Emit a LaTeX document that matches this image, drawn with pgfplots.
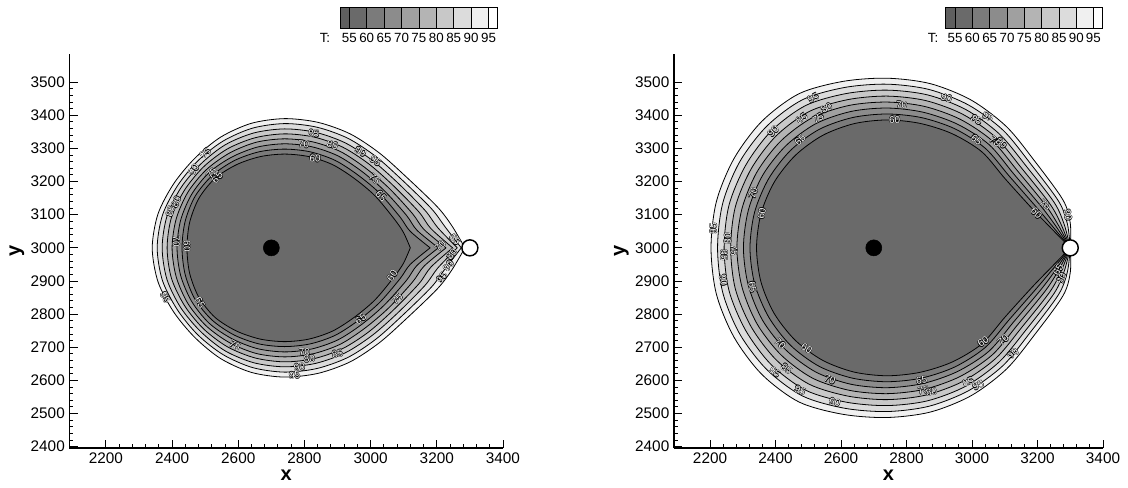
\documentclass[border=0pt]{standalone}
\usepackage{fontspec}
\setmainfont{Liberation Sans}
\usepackage{pgfplots}
\usepackage{pgfplotstable}
\pgfplotsset{compat=1.18}

\definecolor{g1}{HTML}{5F5F5F}
\definecolor{g2}{HTML}{6A6A6A}
\definecolor{g3}{HTML}{7B7B7B}
\definecolor{g4}{HTML}{8C8C8C}
\definecolor{g5}{HTML}{A0A0A0}
\definecolor{g6}{HTML}{B4B4B4}
\definecolor{g7}{HTML}{C8C8C8}
\definecolor{g8}{HTML}{DCDCDC}
\definecolor{g9}{HTML}{F0F0F0}
\definecolor{g10}{HTML}{FFFFFF}

% polar radii (about the centre 2740,3000) of the contours T = 60 ... 95, left panel
\pgfplotstableread{
t r60 r65 r70 r75 r80 r85 r90 r95
0 380 440 465 488 508 522 534 545
7.5 362 383 404 425 446 467 489 510
15 342 361 381 400 420 439 459 478
30 315 331 347 363 378 394 410 426
45 297 312 328 343 359 374 390 405
60 290 305 321 336 351 366 382 397
75 285 300 316 331 346 361 377 392
90 283 298 314 329 344 359 375 390
105 285 300 315 330 344 359 374 389
120 290 304 317 331 345 359 372 386
135 297 309 322 334 346 358 371 383
150 299 312 324 337 349 362 374 387
165 297 311 325 339 354 368 382 396
180 295 310 325 340 355 370 385 400
195 297 311 325 339 354 368 382 396
210 299 312 324 337 349 362 374 387
225 297 309 322 334 346 358 371 383
240 290 304 317 331 345 359 372 386
255 285 300 315 330 344 359 374 389
270 283 298 314 329 344 359 375 390
285 285 300 316 331 346 361 377 392
300 290 305 321 336 351 366 382 397
315 297 312 328 343 359 374 390 405
330 315 331 347 363 378 394 410 426
345 342 361 381 400 420 439 459 478
352.5 362 383 404 425 446 467 489 510
360 380 440 465 488 508 522 534 545
}\tabL

% right panel
\pgfplotstableread{
t r60 r65 r70 r75 r80 r85 r90 r95
0 560 560 560 560 560 560 560 560
7.5 500 509 519 528 537 546 556 565
15 459 473 487 501 515 529 543 557
30 417 432 447 462 477 492 507 522
45 410 425 441 456 471 486 502 517
60 398 415 431 448 465 482 498 515
75 389 407 424 442 460 478 495 513
90 386 404 422 440 458 476 494 512
105 388 407 426 445 463 482 501 520
120 392 413 433 454 475 496 516 537
135 395 416 436 457 478 499 519 540
150 397 417 438 458 478 498 519 539
165 398 418 438 458 479 499 519 539
180 398 418 438 458 477 497 517 537
195 398 418 438 458 479 499 519 539
210 397 417 438 458 478 498 519 539
225 395 416 436 457 478 499 519 540
240 392 413 433 454 475 496 516 537
255 388 407 426 445 463 482 501 520
270 386 404 422 440 458 476 494 512
285 389 407 424 442 460 478 495 513
300 398 415 431 448 465 482 498 515
315 410 425 441 456 471 486 502 517
330 417 432 447 462 477 492 507 522
345 459 473 487 501 515 529 543 557
352.5 500 509 519 528 537 546 556 565
360 560 560 560 560 560 560 560 560
}\tabR

\pgfplotsset{
  myax/.style={
    scale only axis,
    axis x line*=bottom, axis y line*=left,
    x axis line style={-, line width=1.2pt},
    y axis line style={-, line width=1.2pt},
    tick align=inside,
    major tick length=6pt, minor tick length=3pt,
    every tick/.style={black, line width=0.7pt},
    xmin=2090, xmax=3400, ymin=2396, ymax=3585,
    xtick={2200,2400,...,3400}, ytick={2400,2500,...,3500},
    minor x tick num=4, minor y tick num=4,
    /pgf/number format/assume math mode=true,
    /pgf/number format/1000 sep={},
    ticklabel style={font=\fontsize{11.5}{13}\selectfont},
    xlabel={x}, ylabel={y},
    label style={font=\fontsize{15}{16}\selectfont\bfseries},
    xlabel style={yshift=2pt},
    ylabel style={yshift=-2pt},
  },
  cl/.style={draw=black, line width=0.6pt, smooth, tension=0.5, line join=round, mark=none},
}
\tikzset{
  clb/.style={font=\fontsize{7.5}{8}\selectfont, text=black, inner sep=0pt},
  clw/.style={font=\fontsize{7.5}{8}\selectfont, text=white, inner sep=0pt},
}

\newcommand{\clab}[4]{%
\node[clb,rotate=#3,xshift=0.35pt] at (axis cs:#1,#2) {#4};
\node[clb,rotate=#3,xshift=-0.35pt] at (axis cs:#1,#2) {#4};
\node[clb,rotate=#3,yshift=0.35pt] at (axis cs:#1,#2) {#4};
\node[clb,rotate=#3,yshift=-0.35pt] at (axis cs:#1,#2) {#4};
\node[clw,rotate=#3] at (axis cs:#1,#2) {#4};}

\newcommand{\contours}[1]{%
\addplot[cl, fill=g9] table[x expr={2740+\thisrow{r95}*cos(\thisrow{t})}, y expr={3000+\thisrow{r95}*sin(\thisrow{t})}]{#1};
\addplot[cl, fill=g8] table[x expr={2740+\thisrow{r90}*cos(\thisrow{t})}, y expr={3000+\thisrow{r90}*sin(\thisrow{t})}]{#1};
\addplot[cl, fill=g7] table[x expr={2740+\thisrow{r85}*cos(\thisrow{t})}, y expr={3000+\thisrow{r85}*sin(\thisrow{t})}]{#1};
\addplot[cl, fill=g6] table[x expr={2740+\thisrow{r80}*cos(\thisrow{t})}, y expr={3000+\thisrow{r80}*sin(\thisrow{t})}]{#1};
\addplot[cl, fill=g5] table[x expr={2740+\thisrow{r75}*cos(\thisrow{t})}, y expr={3000+\thisrow{r75}*sin(\thisrow{t})}]{#1};
\addplot[cl, fill=g4] table[x expr={2740+\thisrow{r70}*cos(\thisrow{t})}, y expr={3000+\thisrow{r70}*sin(\thisrow{t})}]{#1};
\addplot[cl, fill=g3] table[x expr={2740+\thisrow{r65}*cos(\thisrow{t})}, y expr={3000+\thisrow{r65}*sin(\thisrow{t})}]{#1};
\addplot[cl, fill=g2] table[x expr={2740+\thisrow{r60}*cos(\thisrow{t})}, y expr={3000+\thisrow{r60}*sin(\thisrow{t})}]{#1};
\addplot[only marks, mark=*, mark size=6pt, mark options={fill=black, draw=black}] coordinates {(2700,3000)};
\addplot[only marks, mark=*, mark size=6pt, mark options={fill=white, draw=black, line width=1.1pt}] coordinates {(3300,3000)};
}

\begin{document}
\begin{tikzpicture}
\path[use as bounding box] (0pt,0pt) rectangle (846pt,365.25pt);

% ---------- left panel ----------
\begin{axis}[myax, at={(52.125pt,29.25pt)}, anchor=south west, width=325.1pt, height=295.5pt]
\contours{\tabL}
\clab{2828}{3345}{-8}{85}
\clab{2798}{3312}{-5}{70}
\clab{2885}{3310}{-18}{80}
\clab{2970}{3290}{-28}{90}
\clab{3015}{3262}{-35}{95}
\clab{2832}{3270}{-8}{60}
\clab{3012}{3208}{-42}{75}
\clab{3032}{3157}{-48}{65}
\clab{3255}{3025}{-50}{85}
\clab{3210}{3005}{45}{70}
\clab{3245}{2980}{50}{80}
\clab{3235}{2945}{50}{90}
\clab{3215}{2910}{50}{95}
\clab{3065}{2915}{55}{60}
\clab{3080}{2845}{45}{75}
\clab{2970}{2785}{38}{65}
\clab{2590}{2705}{-30}{75}
\clab{2800}{2685}{3}{70}
\clab{2815}{2665}{5}{80}
\clab{2900}{2680}{12}{85}
\clab{2785}{2640}{8}{90}
\clab{2770}{2615}{5}{95}
\clab{2485}{2835}{-60}{65}
\clab{2380}{2850}{-62}{95}
\clab{2413}{3020}{-90}{70}
\clab{2445}{3005}{-90}{60}
\clab{2395}{3110}{72}{85}
\clab{2412}{3138}{68}{80}
\clab{2465}{3235}{55}{90}
\clab{2500}{3285}{40}{95}
\clab{2520}{3225}{50}{75}
\clab{2537}{3212}{48}{65}
\end{axis}

% ---------- right panel ----------
\begin{axis}[myax, at={(505.5pt,29.25pt)}, anchor=south west, width=321.75pt, height=295.5pt]
\contours{\tabR}
\clab{2515}{3452}{28}{95}
\clab{2393}{3351}{45}{90}
\clab{2480}{3391}{37}{85}
\clab{2530}{3391}{33}{75}
\clab{2556}{3421}{28}{80}
\clab{2475}{3326}{42}{65}
\clab{2785}{3431}{-3}{70}
\clab{2764}{3386}{0}{60}
\clab{2922}{3452}{-18}{90}
\clab{3049}{3396}{-32}{95}
\clab{3014}{3386}{-30}{85}
\clab{3014}{3326}{-38}{65}
\clab{3070}{3321}{-38}{70}
\clab{3090}{3316}{-40}{80}
\clab{3222}{3129}{-45}{70}
\clab{3197}{3104}{-45}{60}
\clab{3293}{3099}{-80}{90}
\clab{3263}{2933}{60}{65}
\clab{3273}{2907}{62}{80}
\clab{3034}{2716}{35}{60}
\clab{3095}{2721}{40}{70}
\clab{3125}{2680}{40}{90}
\clab{2988}{2595}{25}{85}
\clab{3019}{2585}{25}{95}
\clab{2846}{2600}{8}{65}
\clab{2851}{2570}{10}{75}
\clab{2876}{2565}{10}{80}
\clab{2566}{2602}{-22}{70}
\clab{2581}{2534}{-15}{90}
\clab{2475}{2570}{-25}{95}
\clab{2495}{2696}{-32}{60}
\clab{2414}{2711}{-42}{70}
\clab{2398}{2625}{-38}{95}
\clab{2434}{2635}{-38}{85}
\clab{2330}{2882}{-80}{65}
\clab{2358}{3104}{78}{60}
\clab{2332}{3164}{70}{70}
\clab{2210}{3058}{88}{95}
\clab{2254}{3028}{88}{80}
\clab{2273}{2993}{-90}{75}
\clab{2243}{2978}{-90}{85}
\clab{2241}{2902}{-80}{90}
\end{axis}

% ---------- colour legends (pixel units) ----------
\begin{scope}[x=0.75pt,y=0.75pt]
\def\ya{459}\def\yb{480}
\foreach \a/\b/\c in {340/349.3/g1,349.3/366.7/g2,366.7/384.1/g3,384.1/401.5/g4,401.5/418.9/g5,418.9/436.3/g6,436.3/453.7/g7,453.7/471.1/g8,471.1/488.5/g9,488.5/497.3/g10}
  \filldraw[fill=\c, draw=black, line width=0.6pt] (\a,\ya) rectangle (\b,\yb);
\foreach \p/\v in {349.3/55,366.7/60,384.1/65,401.5/70,418.9/75,436.3/80,453.7/85,471.1/90,488.5/95}
  \node[font=\fontsize{10}{11}\selectfont, inner sep=0pt] at (\p,449) {\v};
\node[font=\fontsize{10}{11}\selectfont, inner sep=0pt] at (325,449) {T:};

\foreach \a/\b/\c in {945.3/955/g1,955/972.3/g2,972.3/989.7/g3,989.7/1007/g4,1007/1024.3/g5,1024.3/1041.7/g6,1041.7/1059/g7,1059/1076.3/g8,1076.3/1093.3/g9,1093.3/1102.7/g10}
  \filldraw[fill=\c, draw=black, line width=0.6pt] (\a,\ya) rectangle (\b,\yb);
\foreach \p/\v in {955/55,972.3/60,989.7/65,1007/70,1024.3/75,1041.7/80,1059/85,1076.3/90,1093.3/95}
  \node[font=\fontsize{10}{11}\selectfont, inner sep=0pt] at (\p,449) {\v};
\node[font=\fontsize{10}{11}\selectfont, inner sep=0pt] at (933,449) {T:};
\end{scope}
\end{tikzpicture}
\end{document}
